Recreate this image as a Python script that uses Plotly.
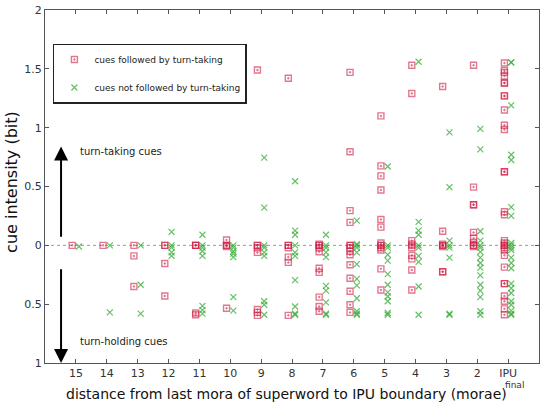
import plotly.graph_objects as go

categories = ["15", "14", "13", "12", "11", "10", "9", "8", "7", "6", "5", "4", "3", "2", "IPU"]

taking = [
    [0],
    [0],
    [0, -0.09, -0.35],
    [0, 0, -0.155, -0.43],
    [0, 0, 0, -0.575, -0.59],
    [0.045, 0, 0, -0.01, -0.535],
    [1.49, 0, 0, -0.02, -0.06, -0.545, -0.57, -0.595],
    [1.42, 0, 0, -0.02, -0.1, -0.145, -0.595],
    [0.01, 0, 0, -0.02, -0.055, -0.195, -0.23, -0.44, -0.52, -0.56],
    [1.47, 0.795, 0.295, 0.195, 0, 0, -0.02, -0.05, -0.08, -0.165, -0.28, -0.39, -0.505, -0.57],
    [1.10, 0.675, 0.59, 0.47, 0.22, 0.155, 0.02, 0, 0, -0.02, -0.04, -0.2, -0.38],
    [1.53, 1.29, 0.04, 0.01, 0, -0.02, -0.085, -0.115, -0.21, -0.38],
    [1.35, 0.12, 0.01, 0, 0, -0.01, -0.225, -0.225],
    [1.53, 0.495, 0.345, 0.345, 0.11, 0.06, 0.025, 0, 0, -0.01],
    [1.55, 1.485, 1.47, 1.44, 1.38, 1.38, 1.27, 1.27, 1.15, 1.02, 0.985, 0.625, 0.625,
     0.285, 0.26, 0.04, 0.02, 0, 0, -0.02, -0.04, -0.085, -0.185, -0.325, -0.325,
     -0.43, -0.475, -0.54, -0.59],
]

not_taking = [
    [-0.01],
    [0, -0.57],
    [0, -0.335, -0.58],
    [0.115, 0, -0.02, -0.06, -0.09],
    [0.09, 0, -0.02, -0.05, -0.09, -0.515, -0.55, -0.58],
    [0, -0.02, -0.05, -0.07, -0.1, -0.44, -0.555],
    [0.745, 0.32, 0, -0.02, -0.06, -0.09, -0.475, -0.505, -0.59],
    [0.545, 0.125, 0.09, 0, -0.06, -0.09, -0.295, -0.52, -0.58, -0.59],
    [0.09, 0, -0.02, -0.06, -0.1, -0.345, -0.385, -0.485, -0.58, -0.59],
    [0.21, 0.01, 0, -0.02, -0.06, -0.16, -0.285, -0.34, -0.45, -0.56, -0.58, -0.59],
    [0.67, 0, -0.02, -0.08, -0.13, -0.245, -0.335, -0.4, -0.435, -0.475, -0.575, -0.59],
    [1.56, 0.2, 0.125, 0.09, 0, -0.02, -0.09, -0.14, -0.35, -0.59],
    [0.96, 0.495, 0.04, 0, -0.02, -0.105, -0.58, -0.59],
    [0.99, 0.815, 0.12, 0.04, 0, -0.02, -0.055, -0.105, -0.15, -0.19, -0.255, -0.335,
     -0.385, -0.44, -0.56, -0.59],
    [1.555, 1.555, 1.19, 0.77, 0.725, 0.325, 0.25, 0.02, 0, -0.02, -0.04, -0.105, -0.15,
     -0.195, -0.325, -0.365, -0.405, -0.475, -0.505, -0.555, -0.58, -0.59],
]

ytick_vals = [2, 1.5, 1, 0.5, 0, -0.5, -1]
ytick_text = ["2", "1.5", "1", "0.5", "0", "0.5", "1"]

FONT = "DejaVu Sans"
RED = "rgba(205,30,70,0.6)"
GREEN = "rgba(50,170,50,0.75)"

rx, ry, gx, gy = [], [], [], []
for i, vals in enumerate(taking):
    rx += [i - 0.12] * len(vals)
    ry += vals
for i, vals in enumerate(not_taking):
    gx += [i + 0.1] * len(vals)
    gy += vals

fig = go.Figure()
fig.add_trace(go.Scatter(
    x=rx, y=ry, mode="markers", name="cues followed by turn-taking",
    legendgroup="a",
    marker=dict(symbol="square-open-dot", size=6, color=RED, line=dict(width=1.4, color=RED)),
))
fig.add_trace(go.Scatter(
    x=gx, y=gy, mode="markers", name="cues not followed by turn-taking",
    legendgroup="b",
    marker=dict(symbol="x-thin-open", size=6, color=GREEN, line=dict(width=1.2, color=GREEN)),
))

# dotted zero line
fig.add_shape(type="line", xref="paper", yref="y", x0=0, x1=1, y0=0, y1=0,
              line=dict(color="#999", width=1, dash="dot"), layer="below")

# arrows
fig.add_annotation(x=-0.48, y=0.84, ax=-0.48, ay=0.06, xref="x", yref="y", axref="x", ayref="y",
                   text="", showarrow=True, arrowhead=2, arrowsize=1.4, arrowwidth=2, arrowcolor="black")
fig.add_annotation(x=-0.48, y=-1.0, ax=-0.48, ay=-0.19, xref="x", yref="y", axref="x", ayref="y",
                   text="", showarrow=True, arrowhead=2, arrowsize=1.4, arrowwidth=2, arrowcolor="black")
fig.add_annotation(x=0.07, y=0.8, xref="x", yref="y", text="turn-taking cues", showarrow=False,
                   xanchor="left", yanchor="middle", font=dict(family=FONT, size=10, color="#222"))
fig.add_annotation(x=0.07, y=-0.815, xref="x", yref="y", text="turn-holding cues", showarrow=False,
                   xanchor="left", yanchor="middle", font=dict(family=FONT, size=10, color="#222"))
# "final" under IPU
fig.add_annotation(x=14.2, y=0, xref="x", yref="paper", yshift=-15, text="final", showarrow=False,
                   xanchor="center", yanchor="top", font=dict(family=FONT, size=9, color="#333"))
# axis titles
fig.add_annotation(x=0.488, y=0, xref="paper", yref="paper", yshift=-21,
                   text="distance from last mora of superword to IPU boundary (morae)",
                   showarrow=False, xanchor="center", yanchor="top",
                   font=dict(family=FONT, size=14, color="#111"))
fig.add_annotation(x=0, y=0.513, xref="paper", yref="paper", xshift=-33,
                   text="cue intensity (bit)", textangle=-90,
                   showarrow=False, xanchor="center", yanchor="middle",
                   font=dict(family=FONT, size=16, color="#111"))

fig.update_layout(
    width=543, height=403,
    margin=dict(l=45, r=4, t=10, b=40),
    paper_bgcolor="white", plot_bgcolor="white",
    font=dict(family=FONT, size=11, color="#333"),
    showlegend=True,
    legend=dict(x=0.016, y=0.905, xanchor="left", yanchor="top",
                bgcolor="white", bordercolor="#222", borderwidth=1.5,
                font=dict(family=FONT, size=9, color="#222"),
                itemwidth=30,
                traceorder="grouped", tracegroupgap=9),
    xaxis=dict(range=[-1, 15], tickmode="array", tickvals=list(range(len(categories))),
               ticktext=categories, ticks="inside", ticklen=4, tickcolor="#555",
               showgrid=False, zeroline=False, showline=True, linecolor="#555", linewidth=1,
               mirror="ticks", tickfont=dict(family=FONT, size=11, color="#333")),
    yaxis=dict(range=[-1, 2], tickmode="array", tickvals=ytick_vals, ticktext=ytick_text,
               ticks="inside", ticklen=4, tickcolor="#555",
               showgrid=False, zeroline=False, showline=True, linecolor="#555", linewidth=1,
               mirror="ticks", tickfont=dict(family=FONT, size=11, color="#333")),
)

fig.write_html("out.html")
